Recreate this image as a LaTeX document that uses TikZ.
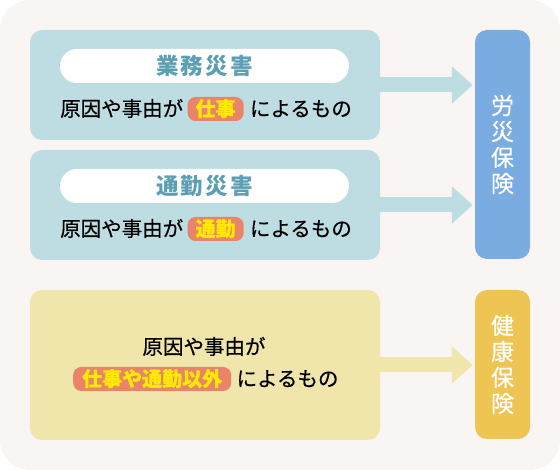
\documentclass[tikz,border=0pt]{standalone}
\usepackage{fontspec}
\newfontfamily\jpfont[FakeBold=0.5]{Noto Sans CJK JP}
\newfontfamily\jpwide[LetterSpace=9]{Noto Sans CJK JP}
\newfontfamily\jpvert[FakeBold=0.3]{Noto Sans CJK JP}
\usetikzlibrary{arrows.meta,positioning}

\definecolor{bgcol}{HTML}{F9F5F2}
\definecolor{casecol}{HTML}{BEDDE2}
\definecolor{titlecol}{HTML}{5C9FB3}
\definecolor{hlcol}{HTML}{E9846B}
\definecolor{hltext}{HTML}{FFEA00}
\definecolor{rousaicol}{HTML}{7AACE1}
\definecolor{othercol}{HTML}{F0E6AC}
\definecolor{kenpocol}{HTML}{EEC553}

\tikzset{
  casebox/.style={rounded corners=12pt, minimum width=350pt, inner sep=0pt},
  titlepill/.style={fill=white, rounded corners=17pt, minimum width=289pt,
    minimum height=34pt, inner sep=0pt, text=titlecol,
    font=\jpwide\bfseries\fontsize{22.5}{22.5}\selectfont},
  bodytext/.style={inner sep=0pt, text height=17pt, text depth=2.5pt,
    font=\jpfont\fontsize{20.5}{20.5}\selectfont},
  hilite/.style={bodytext, fill=hlcol, rounded corners=8pt, inner xsep=8pt,
    minimum height=24pt, text=hltext,
    font=\jpfont\bfseries\fontsize{20}{20}\selectfont},
  insbox/.style={rounded corners=12pt, minimum width=55pt, inner sep=0pt,
    text=white, align=center, font=\jpvert\fontsize{23}{26}\selectfont},
  flowarrow/.style={line width=15pt, -{Triangle[length=21pt,width=36pt]},
    shorten >=2pt}
}

\begin{document}
\begin{tikzpicture}[x=1pt,y=-1pt]

    \useasboundingbox (0,0) rectangle (560,470);

    % backdrop
    \fill[white] (0,0) rectangle (560,470);
    \fill[bgcol, rounded corners=30pt] (0,0) rectangle (560,470);

    %%%%%%%%%%%%%%%%%%%%%%%%%%%%%%%%%%%%%%%%%%%%%%%%%%%%%%

    % work accident
    \node[casebox, fill=casecol, minimum height=110pt] (work) at (205,85) {};
    \node[titlepill] (worktitle) at (204.5,66) {業務災害};
    \node[bodytext, anchor=west] (workcause) at (60,109) {原因や事由が};
    \node[hilite, right=4pt of workcause] (workhl) {仕事};
    \node[bodytext, right=6pt of workhl] (workrest) {によるもの};

    % commuting accident
    \node[casebox, fill=casecol, minimum height=110pt] (commute) at (205,205) {};
    \node[titlepill] (commutetitle) at (204.5,186) {通勤災害};
    \node[bodytext, anchor=west] (commutecause) at (60,229) {原因や事由が};
    \node[hilite, right=4pt of commutecause] (commutehl) {通勤};
    \node[bodytext, right=6pt of commutehl] (commuterest) {によるもの};

    % anything else
    \node[casebox, fill=othercol, minimum height=150pt] (other) at (205,365) {};
    \node[bodytext] (othercause) at (204,347) {原因や事由が};
    \node[hilite, anchor=west, inner xsep=9pt] (otherhl) at (73,379) {仕事や通勤以外};
    \node[bodytext, right=5pt of otherhl] (otherrest) {によるもの};

    %%%%%%%%%%%%%%%%%%%%%%%%%%%%%%%%%%%%%%%%%%%%%%%%%%%%%%

    % insurances
    \node[insbox, fill=rousaicol, minimum height=229pt] (rousai) at (502.5,144.5) {労\\災\\保\\険};
    \node[insbox, fill=kenpocol, minimum height=149pt] (kenpo) at (502.5,364.5) {健\\康\\保\\険};

    % arrows
    \draw[flowarrow, casecol] (work.east) -- (work.east -| rousai.west);
    \draw[flowarrow, casecol] (commute.east) -- (commute.east -| rousai.west);
    \draw[flowarrow, othercol] (other.east) -- (other.east -| kenpo.west);

\end{tikzpicture}
\end{document}
